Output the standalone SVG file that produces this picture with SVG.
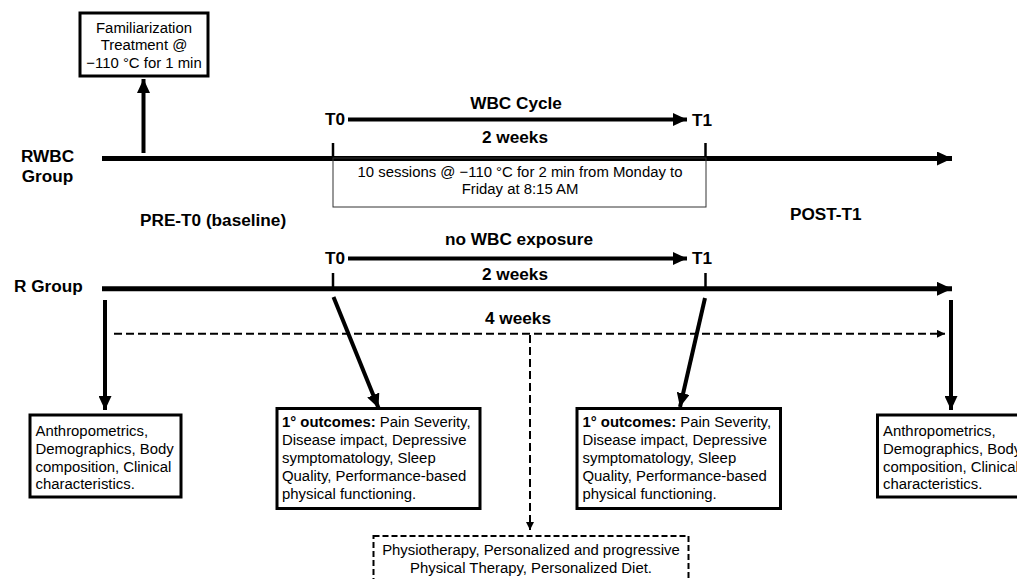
<svg xmlns="http://www.w3.org/2000/svg" width="1017" height="579" viewBox="0 0 1017 579">
<style>
.b{font-family:"Liberation Sans",Arial,sans-serif;font-weight:bold;font-size:17.2px;fill:#000}
.r{font-family:"Liberation Sans",Arial,sans-serif;font-size:14.9px;fill:#000}
.c{text-anchor:middle}
.box{fill:#fff;stroke:#000;stroke-width:3}
.thin{fill:none;stroke:#333;stroke-width:1}
.tl{stroke:#000;stroke-width:5;fill:none}
.ar{stroke:#000;stroke-width:4;fill:none}
.tk{stroke:#000;stroke-width:2.5;fill:none}
.ds{stroke:#000;stroke-width:2;fill:none;stroke-dasharray:8,4}
</style>
<defs>
<marker id="big" markerUnits="userSpaceOnUse" markerWidth="16" markerHeight="14" refX="15" refY="7" orient="auto"><path d="M0,0 L15,7 L0,14 z" fill="#000"/></marker>
<marker id="mid" markerUnits="userSpaceOnUse" markerWidth="15" markerHeight="13" refX="14" refY="6.5" orient="auto"><path d="M0,0 L14,6.5 L0,13 z" fill="#000"/></marker>
<marker id="sm" markerUnits="userSpaceOnUse" markerWidth="9" markerHeight="8" refX="8" refY="4" orient="auto"><path d="M0,0 L8,4 L0,8 z" fill="#000"/></marker>
</defs>
<rect width="1017" height="579" fill="#fff"/>

<g id="connectors">
<line class="tl" x1="102" y1="158.5" x2="952" y2="158.5" marker-end="url(#big)"/>
<line class="tk" x1="333" y1="143" x2="333" y2="158"/>
<line class="tk" x1="705.5" y1="143" x2="705.5" y2="158"/>
<line class="ar" x1="348" y1="119.5" x2="687" y2="119.5" marker-end="url(#mid)"/>
<line class="ar" x1="143.5" y1="153" x2="143.5" y2="79" marker-end="url(#mid)"/>
<line class="tl" x1="102" y1="288.8" x2="952" y2="288.8" marker-end="url(#big)"/>
<line class="tk" x1="333" y1="273" x2="333" y2="288"/>
<line class="tk" x1="705.5" y1="273" x2="705.5" y2="288"/>
<line class="ar" x1="348" y1="258.5" x2="687" y2="258.5" marker-end="url(#mid)"/>
<line class="ds" x1="114" y1="333.8" x2="945" y2="333.8" marker-end="url(#sm)"/>
<line class="ds" x1="530" y1="335" x2="530" y2="530" marker-end="url(#sm)"/>
<line class="ar" x1="105" y1="300" x2="105" y2="410" marker-end="url(#mid)"/>
<line class="ar" x1="951" y1="300" x2="951" y2="410" marker-end="url(#mid)"/>
<line class="ar" x1="333.5" y1="297" x2="378.5" y2="408" marker-end="url(#mid)"/>
<line class="ar" x1="705" y1="298" x2="680" y2="407" marker-end="url(#mid)"/>
</g>

<g id="labels">
<text class="b c" x="47.5" y="162">RWBC</text>
<text class="b c" x="47.5" y="182">Group</text>
<text class="b" x="14" y="292">R Group</text>
<text class="b" x="140" y="226">PRE-T0 (baseline)</text>
<text class="b" x="790" y="220">POST-T1</text>
<text class="b c" x="516" y="109">WBC Cycle</text>
<text class="b" x="325" y="125">T0</text>
<text class="b" x="692" y="126">T1</text>
<text class="b c" x="515" y="143">2 weeks</text>
<text class="b c" x="519" y="245">no WBC exposure</text>
<text class="b" x="325" y="264">T0</text>
<text class="b" x="692" y="264">T1</text>
<text class="b c" x="515" y="280">2 weeks</text>
<text class="b c" x="518" y="324">4 weeks</text>
</g>

<g id="familiarization">
<rect class="box" x="80" y="13" width="128" height="63"/>
<text class="r c" x="144" y="32.5">Familiarization</text>
<text class="r c" x="144" y="50">Treatment @</text>
<text class="r c" x="144" y="68">−110 °C for 1 min</text>
</g>

<g id="sessions">
<rect class="thin" x="333" y="158" width="373" height="49"/>
<text class="r c" x="520" y="177">10 sessions @ −110 °C for 2 min from Monday to</text>
<text class="r c" x="520" y="194">Friday at 8:15 AM</text>
</g>

<g id="baseline-measures">
<rect class="box" x="30" y="415" width="151" height="82"/>
<text class="r" x="35.5" y="436">Anthropometrics,</text>
<text class="r" x="35.5" y="453.5">Demographics, Body</text>
<text class="r" x="35.5" y="471.5">composition, Clinical</text>
<text class="r" x="35.5" y="489">characteristics.</text>
</g>

<g id="outcomes-t0">
<rect class="box" x="277" y="408.5" width="203" height="100"/>
<text class="r" x="282" y="426.5"><tspan font-weight="bold">1° outcomes:</tspan> Pain Severity,</text>
<text class="r" x="282" y="444.5">Disease impact, Depressive</text>
<text class="r" x="282" y="462.5">symptomatology, Sleep</text>
<text class="r" x="282" y="480.5">Quality, Performance-based</text>
<text class="r" x="282" y="498.5">physical functioning.</text>
</g>

<g id="outcomes-t1">
<rect class="box" x="577" y="408.5" width="203.5" height="100"/>
<text class="r" x="582.5" y="426.5"><tspan font-weight="bold">1° outcomes:</tspan> Pain Severity,</text>
<text class="r" x="582.5" y="444.5">Disease impact, Depressive</text>
<text class="r" x="582.5" y="462.5">symptomatology, Sleep</text>
<text class="r" x="582.5" y="480.5">Quality, Performance-based</text>
<text class="r" x="582.5" y="498.5">physical functioning.</text>
</g>

<g id="post-measures">
<rect class="box" x="877.5" y="415" width="151" height="82"/>
<text class="r" x="883" y="436">Anthropometrics,</text>
<text class="r" x="883" y="453.5">Demographics, Body</text>
<text class="r" x="883" y="471.5">composition, Clinical</text>
<text class="r" x="883" y="489">characteristics.</text>
</g>

<g id="intervention">
<rect x="373.5" y="536" width="315" height="60" fill="#fff" stroke="#000" stroke-width="2" stroke-dasharray="6,3"/>
<text class="r c" x="531" y="555">Physiotherapy, Personalized and progressive</text>
<text class="r c" x="531" y="573">Physical Therapy, Personalized Diet.</text>
</g>
</svg>
